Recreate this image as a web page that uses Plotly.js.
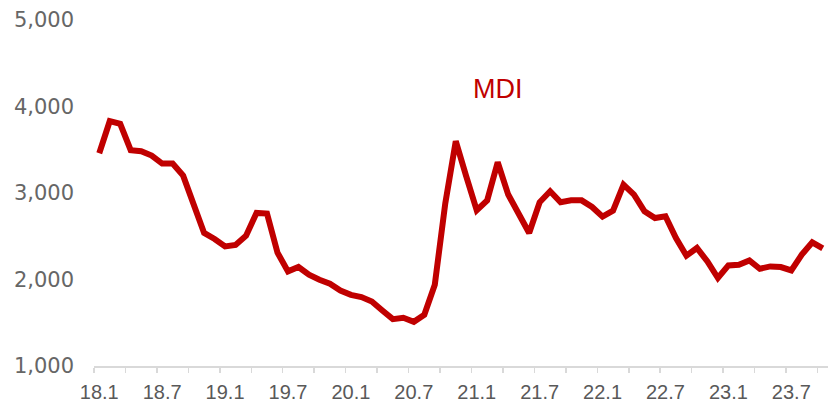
<!DOCTYPE html>
<html>
<head>
<meta charset="utf-8">
<script src="https://cdn.plot.ly/plotly-3.0.1.min.js"></script>
<style>html,body{margin:0;padding:0;background:#fff;}#chart{width:828px;height:403px;}</style>
</head>
<body>
<div id="chart"></div>
<script>
// Months from 2018.1 to 2023.10
const months = ["18.1","18.2","18.3","18.4","18.5","18.6","18.7","18.8","18.9","18.10","18.11","18.12",
"19.1","19.2","19.3","19.4","19.5","19.6","19.7","19.8","19.9","19.10","19.11","19.12",
"20.1","20.2","20.3","20.4","20.5","20.6","20.7","20.8","20.9","20.10","20.11","20.12",
"21.1","21.2","21.3","21.4","21.5","21.6","21.7","21.8","21.9","21.10","21.11","21.12",
"22.1","22.2","22.3","22.4","22.5","22.6","22.7","22.8","22.9","22.10","22.11","22.12",
"23.1","23.2","23.3","23.4","23.5","23.6","23.7","23.8","23.9","23.10"];
const mdi = [3460,3830,3800,3495,3483,3433,3340,3340,3201,2846,2538,2468,
2383,2399,2507,2770,2762,2310,2094,2144,2055,1997,1951,1873,
1823,1797,1746,1642,1542,1557,1511,1592,1940,2880,3599,3193,
2800,2915,3356,2982,2770,2538,2893,3020,2893,2915,2915,2839,
2727,2795,3097,2982,2788,2711,2731,2480,2275,2364,2209,2017,
2163,2171,2221,2124,2151,2144,2105,2287,2430,2360];
const tickLabels = ["18.1","18.7","19.1","19.7","20.1","20.7","21.1","21.7","22.1","22.7","23.1","23.7"];
const yTicks = [1000,2000,3000,4000,5000];
const seriesName = "MDI";

const xIdx = months.map((m, i) => i);
const labelPos = tickLabels.map(t => months.indexOf(t));
const minorPos = [];
for (let i = 0; i <= months.length; i += 3) minorPos.push(i - 0.5);

const trace = {
  x: xIdx, y: mdi, type: 'scatter', mode: 'lines',
  line: {color: '#C00000', width: 6, shape: 'linear'},
  hoverinfo: 'skip', showlegend: false
};

const layout = {
  width: 828, height: 403,
  margin: {l: 94, r: 0, t: 20, b: 37, pad: 0},
  paper_bgcolor: '#ffffff', plot_bgcolor: '#ffffff',
  showlegend: false,
  xaxis: {
    range: [-0.5, months.length - 0.5],
    tickmode: 'array', tickvals: labelPos, ticktext: tickLabels,
    ticks: '', showgrid: false, zeroline: false,
    showline: true, linecolor: '#d9d9d9', linewidth: 2,
    tickfont: {family: '"Liberation Sans Narrow", "Liberation Sans", Arial, sans-serif', size: 20, color: '#595959'},
    ticklabelstandoff: 7,
    minor: {tickmode: 'array', tickvals: minorPos, ticks: 'outside', ticklen: 5, tickcolor: '#d9d9d9', tickwidth: 1.5, showgrid: false}
  },
  yaxis: {
    range: [1000, 5000],
    tickmode: 'array', tickvals: yTicks, ticktext: yTicks.map(v => v.toLocaleString('en-US')),
    ticks: '', showgrid: false, zeroline: false, showline: false,
    tickfont: {family: '"DejaVu Sans", sans-serif', size: 21, color: '#666666'},
    ticklabelstandoff: 19
  },
  annotations: [{
    text: seriesName, x: 38, y: 4200, xref: 'x', yref: 'y',
    showarrow: false, xanchor: 'center', yanchor: 'middle',
    font: {family: '"Liberation Sans", Arial, sans-serif', size: 27, color: '#C00000'}
  }]
};

Plotly.newPlot('chart', [trace], layout, {staticPlot: true, displayModeBar: false});
</script>
</body>
</html>
